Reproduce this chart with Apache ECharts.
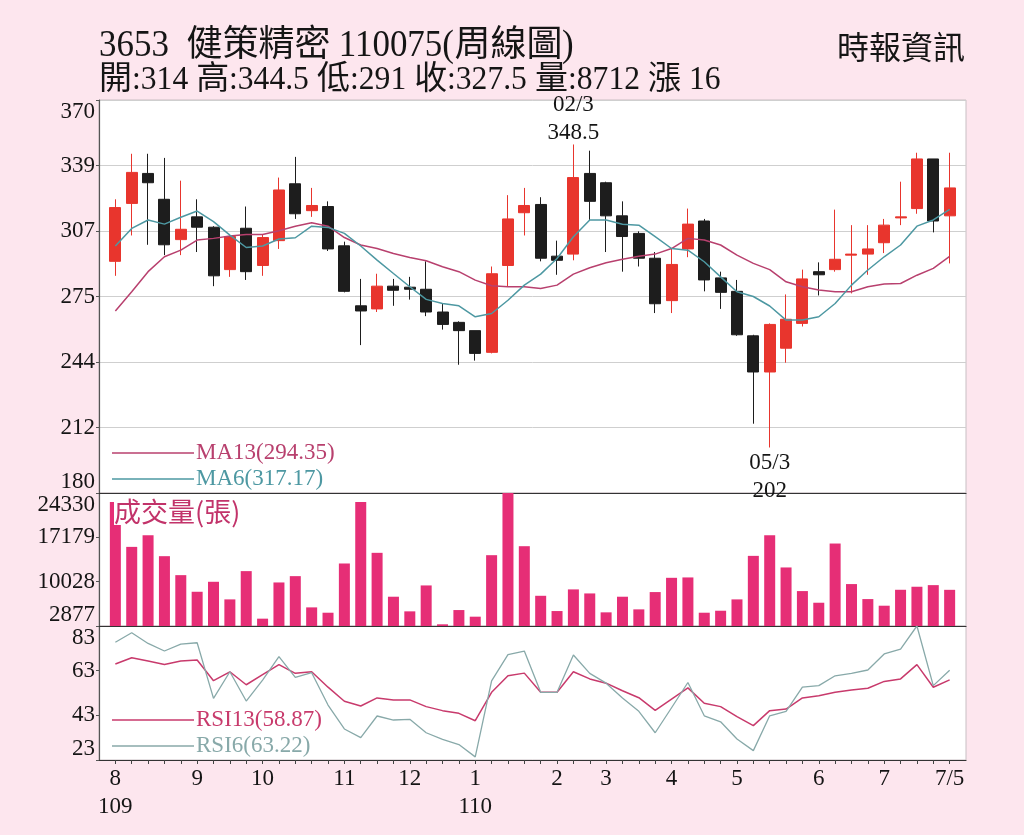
<!DOCTYPE html>
<html><head><meta charset="utf-8">
<script src="https://cdn.jsdelivr.net/npm/echarts@6/dist/echarts.min.js"></script>
<style>
html,body{margin:0;padding:0;background:#fde6ee;width:1024px;height:835px;overflow:hidden;}
#chart{position:absolute;left:0;top:0;width:1024px;height:835px;}
.hdr{position:absolute;white-space:nowrap;color:#151515;}
.hdr span{white-space:pre;}
.lat{display:inline-block;font-family:"Liberation Serif",serif;transform-origin:0 50%;}
.cjk{font-family:"Noto Sans CJK TC",sans-serif;}
</style></head><body>
<div id="chart"></div>
<div class="hdr" id="t1" style="left:99px;top:19px;line-height:42px;"></div>
<div class="hdr" id="t2" style="left:99px;top:55px;line-height:40px;"></div>
<div class="hdr" id="t3" style="left:837px;top:25px;line-height:40px;"></div>
<script>
// ---------------- data ----------------
const titleText = '3653  健策精密 110075(周線圖)';
const infoText = '開:314 高:344.5 低:291 收:327.5 量:8712 漲 16';
const sourceText = '時報資訊';

const opens  = [292,320,334.5,322,302.5,313.5,308.5,288,308,290,302,329.5,316.5,318.5,299.5,270.5,269,280,279.5,278.5,267.5,262.5,258.5,248,290,315.5,319.5,294.5,295.5,334.5,330,314,305.5,293.5,273,298,311.5,284,277.5,256,238.5,250,262,287,288,295,295.5,301,313,317.5,341.5,314];
const closes = [318,335,330,300,307.5,308.5,285,304,287,303.5,326.5,315,319,298,277.5,268,280,278,278.5,267.5,261.5,258.5,247.5,286,312.5,319,293.5,292.5,332.5,321,314,304,293.5,271.5,290.5,310,283,277,256.5,238.5,261.5,264,283.5,285.5,293,295.5,298,309.5,313.5,341.5,311.5,327.5];
const highs  = [322,344,344,342,331,322,309,305,318.5,305,332.5,342.5,327.5,321,301.5,283.5,286,283.5,284.5,292,271.5,263,258.5,289.5,324,327.5,323,302,348.5,345.5,330.5,321,306.5,296.5,298,317.5,312.5,287,283,256.5,262,276,288,291.5,317,309.5,309.5,312.5,330.5,344.5,341.5,344.5];
const lows   = [285,304.5,300,295,295,296.5,280,284.5,283,285,298,312.5,313.5,297,277,251.5,267.5,270.5,273.5,265.5,259,242,244,247.5,280,304.5,292,285.5,292.5,312,296.5,287,289.5,267,267,294,277.5,269,256,213.5,202,243,260.5,275.5,287,276.5,285.5,296,309.5,315,306,291];
const ma13 = [268,277.3,287,294.2,297.4,302.3,303.1,304.2,305,305,306.8,309,310.7,309,303.5,299.9,298.2,295.8,293.9,292.3,289.4,287,282.9,280.2,279.7,279.7,278.9,280.5,285.8,288.9,291.3,293,294.5,295.5,298.2,303.1,302.3,299.9,295,291,288,282.1,279.7,278.1,277.3,277.3,279.7,281,281.3,285.3,288.6,294.35];
const ma6  = [299.4,307.9,312,310,313.3,316.3,311.2,304.7,298.7,299.4,302.8,303.4,309,308.4,305.5,299.4,292.6,286.1,279.7,273.6,271.6,270.5,265.2,266.8,273.2,280.5,285.8,293.4,303.9,312,312,309.9,309.5,303.9,298.2,297.4,291.8,284.5,277.3,275,270.4,263.6,263.6,265.2,271.6,280.5,287.8,294.2,299.9,309,312,317.17];
const volumes = [22880,15640,17520,14140,11080,8400,10010,7170,11730,4060,9900,10920,5880,5020,12960,22880,14680,7600,5240,9420,3150,5450,4380,14300,24330,15750,7750,5290,8780,8130,5080,7600,5560,8350,10650,10710,5020,5340,7170,14190,17520,12320,8510,6630,16180,9640,7220,6150,8720,9210,9470,8712];
const rsi13 = [66,68.8,67.3,65.8,67.3,67.8,58.5,62.5,56.7,61.2,65.7,61.8,62.5,55.6,49.3,47.2,50.8,49.9,49.9,46.9,45.1,43.9,40.6,53.3,60.7,61.9,53.3,53.3,62.5,59.3,57.4,54,50.9,45.2,50.3,55.3,48.4,46.9,42.4,38.4,45.1,45.8,50.8,51.8,53.3,54.3,55.1,58.2,59.3,65.7,55.6,58.87];
const rsi6  = [75.7,80,75.2,71.8,74.9,75.5,50.6,62.5,49.4,58.8,69.3,60,62.1,47.6,36.9,33,42.7,40.9,41.2,35.2,32.2,29.9,24.4,58.4,70.2,71.8,53.3,53.3,70,61.8,57.4,50.8,44.8,35.2,46.4,57.7,42.8,40.1,32.4,27.2,42.8,44.8,55.6,56.3,60.7,61.8,63.3,70.5,72.7,83,56.3,63.22];

const monthTickIndex = [0,5,9,14,18,22,27,30,34,38,43,47,51];
const monthTickText  = ['8\n109','9','10','11','12','1\n110','2','3','4','5','6','7','7/5'];
const priceTickLabels = ['180','212','244','275','307','339','370'];
const volumeTickLabels = [2877,10028,17179,24330];
const rsiTickLabels = [23,43,63,83];
const peakNote = {index:28, value:348.5, text:'02/3\n348.5'};
const troughNote = {index:40, value:202, text:'05/3\n202'};

// ---------------- header ----------------
function fillHeader(id, text, latinSize, cjkSize, scale){
  const el = document.getElementById(id);
  const re = /([\u2E80-\u9FFF\uFF00-\uFFEF]+)/;
  text.split(re).forEach(part => {
    if(!part) return;
    const s = document.createElement('span');
    s.textContent = part;
    if(re.test(part)){ s.className='cjk'; s.style.fontSize = cjkSize+'px'; }
    else { s.className='lat'; s.style.fontSize = latinSize+'px'; s.style.transform='scaleX('+scale+')'; }
    el.appendChild(s);
  });
  el.querySelectorAll('.lat').forEach(s => {
    const w = s.offsetWidth;
    s.style.marginRight = (-(w - w*scale)) + 'px';
  });
}
fillHeader('t1', titleText, 38, 36, 0.92);
fillHeader('t2', infoText, 34, 33, 0.93);
fillHeader('t3', sourceText, 32, 32, 0.8);

// ---------------- chart ----------------
const N = opens.length;
const cats = [''].concat(opens.map((_, i) => String(i))).concat([' ']);
const pad = arr => ['-'].concat(arr).concat(['-']);
const candleData = opens.map((o, i) => [o, closes[i], lows[i], highs[i]]);

const pMin = 180, pMax = 370;
const pStep = (pMax - pMin) / (priceTickLabels.length - 1);
const priceTickValues = priceTickLabels.map((_, k) => pMin + k * pStep);

const FONT = 'Liberation Serif';
const RED = '#e8352d', BLACK = '#1d1d1d';
const C_MA13 = '#b8406e', C_MA6 = '#4d98a2';
const C_RSI13 = '#c83a6c', C_RSI6 = '#88a9a9';

const grids = [
  {left:99, top:100, width:867, height:393},
  {left:99, top:493, width:867, height:133},
  {left:99, top:626, width:867, height:134}
].map(g => Object.assign(g, {show:true, backgroundColor:'#ffffff', borderColor:'#c8bfc3', borderWidth:1}));

const xAxes = [0,1,2].map(gi => ({
  type:'category', data:cats, boundaryGap:false, gridIndex:gi,
  axisLine:{show:true, onZero:false, lineStyle:{color:'#333', width:1.2}},
  axisTick:{show: gi===2, length:4, interval:(idx) => idx>=1 && idx<=N, lineStyle:{color:'#444'}},
  axisLabel:{show: gi===2, interval:(idx) => monthTickIndex.indexOf(idx-1) >= 0,
    formatter:(val) => { const k = monthTickIndex.indexOf(Number(val)); return k>=0 ? monthTickText[k] : ''; },
    fontFamily:FONT, fontSize:23, color:'#151515', lineHeight:28, margin:5},
  splitLine:{show:false}
}));

const yBase = {
  type:'value', scale:false,
  axisLine:{show:true, lineStyle:{color:'#555', width:1.2}},
  axisTick:{show:true, length:3, lineStyle:{color:'#555'}},
};
const yLabel = {fontFamily:FONT, fontSize:23, color:'#151515', margin:4, verticalAlignMinLabel:'bottom', verticalAlignMaxLabel:'top'};

const yAxes = [
  Object.assign({}, yBase, {gridIndex:0, min:pMin, max:pMax,
    axisTick:Object.assign({}, yBase.axisTick, {customValues:priceTickValues}),
    axisLabel:Object.assign({}, yLabel, {customValues:priceTickValues,
      formatter:(v) => priceTickLabels[Math.round((v - pMin)/pStep)]}),
    splitLine:{show:true, lineStyle:{color:'#cfcfcf', width:1}}}),
  Object.assign({}, yBase, {gridIndex:1, min:volumeTickLabels[0], max:volumeTickLabels[volumeTickLabels.length-1],
    axisTick:Object.assign({}, yBase.axisTick, {customValues:volumeTickLabels}),
    axisLabel:Object.assign({}, yLabel, {customValues:volumeTickLabels, formatter:(v) => String(Math.round(v))}),
    splitLine:{show:false}}),
  Object.assign({}, yBase, {gridIndex:2, min:rsiTickLabels[0], max:rsiTickLabels[rsiTickLabels.length-1],
    axisTick:Object.assign({}, yBase.axisTick, {customValues:rsiTickLabels}),
    axisLabel:Object.assign({}, yLabel, {customValues:rsiTickLabels, formatter:(v) => String(Math.round(v))}),
    splitLine:{show:false}})
];

const last = a => a[a.length-1];
const noteLabel = {fontFamily:FONT, fontSize:23, color:'#151515', lineHeight:28};

const option = {
  animation:false,
  grid:grids, xAxis:xAxes, yAxis:yAxes,
  legend:[
    {left:112, top:440, orient:'vertical', padding:0, itemGap:0, itemWidth:82, itemHeight:1.5, icon:'rect', selectedMode:false,
     data:[{name:'MA13', textStyle:{color:C_MA13}}, {name:'MA6', textStyle:{color:C_MA6}}],
     formatter:(n) => n + '(' + (n==='MA13' ? last(ma13) : last(ma6)).toFixed(2) + ')',
     textStyle:{fontFamily:FONT, fontSize:23, lineHeight:26, padding:[0,0,0,-3]}},
    {left:112, top:707, orient:'vertical', padding:0, itemGap:0, itemWidth:82, itemHeight:1.5, icon:'rect', selectedMode:false,
     data:[{name:'RSI13', textStyle:{color:C_RSI13}}, {name:'RSI6', textStyle:{color:C_RSI6}}],
     formatter:(n) => n + '(' + (n==='RSI13' ? last(rsi13) : last(rsi6)).toFixed(2) + ')',
     textStyle:{fontFamily:FONT, fontSize:23, lineHeight:26, padding:[0,0,0,-3]}}
  ],
  graphic:[
    {type:'text', left:114, top:498, z:100,
     style:{text:'成交量(張)', fill:'#c2336a', font:'27px "Noto Sans CJK TC"', backgroundColor:'#ffffff'}}
  ],
  series:[
    {type:'candlestick', name:'K', xAxisIndex:0, yAxisIndex:0, data:pad(candleData), barWidth:11.5,
     itemStyle:{color:RED, color0:BLACK, borderColor:RED, borderColor0:BLACK, borderWidth:1},
     markPoint:{symbol:'circle', symbolSize:0, silent:true,
       label:Object.assign({show:true}, noteLabel),
       data:[
         {coord:[String(peakNote.index), peakNote.value], label:{formatter:peakNote.text, position:'top', distance:-2}},
         {coord:[String(troughNote.index), troughNote.value], label:{formatter:troughNote.text, position:'bottom', distance:1}}
       ]}},
    {type:'line', name:'MA13', xAxisIndex:0, yAxisIndex:0, data:pad(ma13), symbol:'none', color:C_MA13, lineStyle:{width:1.5, color:C_MA13}, z:3},
    {type:'line', name:'MA6', xAxisIndex:0, yAxisIndex:0, data:pad(ma6), symbol:'none', color:C_MA6, lineStyle:{width:1.5, color:C_MA6}, z:3},
    {type:'bar', name:'Volume', xAxisIndex:1, yAxisIndex:1, data:pad(volumes), barWidth:11, itemStyle:{color:'#e62e76'}},
    {type:'line', name:'RSI13', xAxisIndex:2, yAxisIndex:2, data:pad(rsi13), symbol:'none', color:C_RSI13, lineStyle:{width:1.5, color:C_RSI13}},
    {type:'line', name:'RSI6', xAxisIndex:2, yAxisIndex:2, data:pad(rsi6), symbol:'none', color:C_RSI6, lineStyle:{width:1.3, color:C_RSI6}}
  ]
};
const chart = echarts.init(document.getElementById('chart'), null, {renderer:'canvas'});
chart.setOption(option);
</script>
</body></html>
